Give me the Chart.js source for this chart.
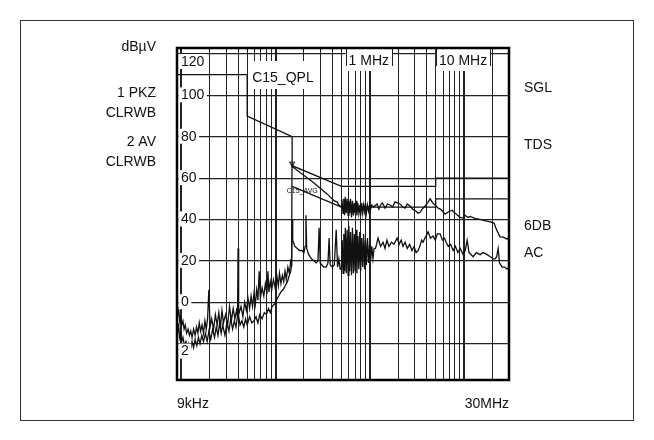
<!DOCTYPE html>
<html>
<head>
<meta charset="utf-8">
<script src="https://cdn.jsdelivr.net/npm/chart.js@4.4.1/dist/chart.umd.min.js"></script>
<style>
  html, body { margin: 0; padding: 0; background: #fff; }
  canvas { display: block; }
</style>
</head>
<body>
<canvas id="emi" width="654" height="440"></canvas>
<script>
// frequencies in kHz, levels in dBuV
const pkFreq = [
  9.0, 9.2, 9.4, 9.6, 9.8, 10.1, 10.4, 10.7, 11.0, 11.4, 11.8, 12.2, 12.6, 13.0, 13.5, 14.0, 14.5, 15.0, 15.5, 16.0,
  16.6, 17.2, 17.8, 18.4, 19.0, 19.6, 20.2, 21, 22, 23, 24, 25, 26, 27, 28, 29.5, 31, 32.5, 34, 35.5,
  37, 38.5, 39.5, 40, 40.6, 43, 45, 47, 49, 51, 53, 55, 57, 59, 61, 63, 65, 67, 69, 72,
  75, 78, 81, 83, 85, 88, 91, 95, 99, 103, 107, 110, 114, 118, 122, 126, 130, 135, 140, 145,
  148, 149.5, 151, 250, 350, 420, 450, 470, 500,
  510, 520, 530, 540, 550, 562, 575, 588, 600, 612, 625, 640, 655, 670, 685, 700, 715, 730, 748, 765,
  783, 800, 820, 840, 860, 880, 900, 920, 945, 970, 995, 1020, 1050,
  1100, 1195, 1250, 1300, 1360, 1453, 1540, 1642, 1750, 1850, 1949, 2097, 2250, 2370, 2500, 2675, 2850, 3100, 3250, 3420,
  3600, 3865, 4100, 4370, 4650, 4930, 5310, 5580, 5900, 6300, 6780, 7470, 8245, 9090, 9785, 10270, 11000, 11600, 13000, 14823,
  16500, 18930, 20850, 21700, 22450, 24166, 26000, 27300, 28676, 30000
];
const pkLevel = [
  -2, -6, -4, -9, -7, -11, -9, -13, -11, -15, -13, -16, -14, -17, -13, -16, -12, -15, -10, -14,
  -11, -15, -9, -13, -8, 6, -12, -8, -13, -6, -11, -5, -12, -4, -10, -6, -11, -2, -9, -3,
  -8, -4, -7, 26, -6, -2, -7, 0, -4, 2, -3, 3, -2, 4, -1, 6, 1, 15, 2, 7,
  3, 9, 4, 15, 5, 10, 6, 11, 7, 13, 8, 14, 9, 13, 10, 15, 11, 17, 14, 20,
  19, 67, 65.5, 58, 52.5, 49, 48.5, 47, 46,
  48, 43, 50, 42, 51, 43, 50, 42, 49, 43, 50, 41, 49, 42, 48, 43, 49, 42, 48, 43,
  47, 42, 48, 43, 47, 44, 48, 43, 47, 44, 47, 45, 47,
  46, 47.5, 45, 47, 48, 45.5, 47.5, 47, 46, 48.5, 48, 47.5, 46, 45.5, 47.5, 46.5, 45, 44, 43, 43.5,
  45, 46.5, 48, 50, 48, 47, 45.5, 45, 44, 42.6, 43.6, 44.5, 42.6, 41, 40.7, 42, 41, 41.5, 40.5, 40,
  39.5, 38.8, 38.3, 36, 34.5, 31.6, 31.5, 31, 30.5, 31.5
];
const avFreq = [
  9.0, 9.2, 9.4, 9.6, 9.8, 10.1, 10.4, 10.8, 11.2, 11.6, 12.0, 12.5, 13.0, 13.5, 14.0, 14.6, 15.2, 15.8, 16.5, 17.2,
  18.0, 18.8, 19.6, 20.5, 21.5, 22.5, 23.5, 24.5, 25.5, 26.5, 27.5, 29, 30.5, 32, 33.5, 35, 36.5, 38, 40, 42,
  44, 46, 48, 50, 53, 56, 59, 62, 65, 68, 72, 76, 80, 84, 88, 92, 97, 102, 108, 114,
  120, 127, 134, 140, 145, 148, 150, 152, 155, 160, 170, 180, 190, 200, 206, 210, 214, 225, 240, 255,
  270, 282, 290, 298, 310, 325, 345, 360, 370, 380, 400, 420, 440, 455, 470, 485,
  500, 510, 520, 530, 540, 550, 562, 575, 588, 600, 612, 625, 640, 655, 670, 685, 700, 715, 730, 748,
  765, 783, 800, 820, 840, 860, 880, 900, 920, 945, 970, 995, 1020, 1050, 1080, 1110,
  1150, 1224, 1300, 1384, 1450, 1520, 1600, 1700, 1800, 1950, 2050, 2150, 2250, 2370, 2500, 2650, 2800, 2950, 3100, 3254,
  3400, 3550, 3675, 3850, 4157, 4400, 4700, 4950, 5200, 5580, 5900, 6200, 6456, 6800, 7200, 7660, 8100, 8600, 9100, 9785,
  10300, 10785, 11300, 12487, 13500, 14823, 16000, 17587, 19000, 20500, 21386, 22200, 23013, 23800, 25380, 27000, 28676, 30000
];
const avLevel = [
  -10, -14, -12, -17, -15, -19, -17, -21, -19, -22, -20, -23, -19, -22, -18, -21, -17, -20, -16, -19,
  -15, -19, -14, -18, -13, -17, -12, -16, -10, -15, -11, -16, -10, -14, -8, -13, -9, -12, -5, -11,
  -9, -12, -8, -11, -7, -10, -9, -7, -10, -6, -8, -5, -6, -3, -5, -2, -1, 1, 3, 5,
  6, 8, 10, 13, 15, 18, 40, 30, 29, 27, 26, 25, 25, 24, 27, 42, 26, 23, 21, 20,
  19, 20, 36, 19, 18, 17, 17, 19, 31, 18, 17, 18, 35, 17, 21, 16,
  16, 30, 14, 33, 15, 36, 14, 35, 13, 37, 15, 34, 13, 36, 14, 33, 15, 35, 14, 32,
  16, 34, 15, 31, 17, 33, 16, 30, 18, 31, 19, 28, 20, 27, 21, 26,
  26, 31, 27, 29, 26, 30, 27, 29, 28, 31, 28, 30, 27, 29, 26, 28, 25, 27, 24, 25,
  27, 30, 29, 31, 34, 31, 32, 30, 33, 33, 30, 31, 29, 27, 28, 25, 27, 24, 26, 23,
  25, 30, 24, 22, 24, 23, 24, 23, 22, 21, 21, 22, 26, 19, 17, 17, 16, 17
];
const qpLimitFreq = [9, 50, 50, 150, 150, 500, 5000, 5000, 30000];
const qpLimitLevel = [110, 110, 90, 80, 66, 56, 56, 60, 60];
const avgLimitFreq = [150, 500, 5000, 5000, 30000];
const avgLimitLevel = [56, 46, 46, 50, 50];
const markerFreq = [150];
const markerLevel = [67];

const yTickValues = [120, 100, 80, 60, 40, 20, 0, -20];
const yTickLabels = ['120', '100', '80', '60', '40', '20', '0', '2'];
const gridFreqs = [
  10, 20, 30, 40, 50, 60, 70, 80, 90,
  100, 200, 300, 400, 500, 600, 700, 800, 900,
  1000, 2000, 3000, 4000, 5000, 6000, 7000, 8000, 9000,
  10000, 20000, 30000
];
const decadeFreqs = [10, 100, 1000, 10000];
const topLabels = [[1000, '1 MHz'], [10000, '10 MHz']];
const leftNotes = ['dBµV', '1 PKZ', 'CLRWB', '2 AV', 'CLRWB'];
const rightNotes = ['SGL', 'TDS', '6DB', 'AC'];

const FONT = '14px "Liberation Sans", Arial, sans-serif';
const toPoints = (xs, ys) => xs.map((x, i) => ({ x, y: ys[i] }));

const overlay = {
  id: 'overlay',
  afterDatasetsDraw(chart) {
    const { ctx, chartArea: a, scales } = chart;
    const x = scales.x, y = scales.y;
    ctx.save();
    ctx.font = FONT;
    ctx.fillStyle = '#111';

    // y tick labels drawn inside the plot with white backdrops
    yTickValues.forEach((v, i) => {
      const py = y.getPixelForValue(v);
      const text = yTickLabels[i];
      const w = ctx.measureText(text).width;
      let top = py - 7;
      if (v === 120 || v === -20) top = py + 1;
      ctx.fillStyle = '#fff';
      ctx.fillRect(a.left + 1.5, top - 1, w + 5, 15);
      ctx.fillStyle = '#111';
      ctx.textBaseline = 'top';
      ctx.textAlign = 'left';
      ctx.fillText(text, a.left + 4, top);
    });

    // decade labels along the top
    topLabels.forEach(([f, text]) => {
      const px = x.getPixelForValue(f) - 1;
      const w = ctx.measureText(text).width + 6;
      ctx.fillStyle = '#fff';
      ctx.fillRect(px - w / 2, a.top, w, 23);
      ctx.strokeStyle = '#222';
      ctx.lineWidth = 1;
      ctx.beginPath();
      ctx.moveTo(Math.round(px - w / 2) + 0.5, a.top);
      ctx.lineTo(Math.round(px - w / 2) + 0.5, a.top + 18);
      ctx.moveTo(Math.round(px + w / 2) + 0.5, a.top);
      ctx.lineTo(Math.round(px + w / 2) + 0.5, a.top + 18);
      ctx.stroke();
      ctx.fillStyle = '#111';
      ctx.textAlign = 'center';
      ctx.textBaseline = 'middle';
      ctx.fillText(text, px, a.top + 13);
    });

    // limit line labels
    const qx = x.getPixelForValue(50) + 2;
    ctx.fillStyle = '#fff';
    ctx.fillRect(qx, 61, 70, 28);
    ctx.fillStyle = '#111';
    ctx.textAlign = 'left';
    ctx.textBaseline = 'middle';
    ctx.fillText('C15_QPL', qx + 3, 78);
    ctx.font = '7px "Liberation Sans", Arial, sans-serif';
    ctx.fillText('C15_AVG', x.getPixelForValue(145) - 4, 191);

    // plot frame
    ctx.strokeStyle = '#000';
    ctx.lineWidth = 2.5;
    ctx.strokeRect(a.left, a.top, a.right - a.left, a.bottom - a.top);

    // outer frame
    ctx.lineWidth = 1;
    ctx.strokeStyle = '#333';
    ctx.strokeRect(20.5, 20.5, 613, 400);

    // side notes
    ctx.font = FONT;
    ctx.fillStyle = '#111';
    ctx.textAlign = 'right';
    [47, 93, 113, 142, 162].forEach((ty, i) => ctx.fillText(leftNotes[i], 156, ty));
    ctx.textAlign = 'left';
    [88, 145, 226, 253].forEach((ty, i) => ctx.fillText(rightNotes[i], 524, ty));

    // frequency span
    ctx.fillText('9kHz', a.left, 404);
    ctx.textAlign = 'right';
    ctx.fillText('30MHz', a.right, 404);
    ctx.restore();
  }
};

const lineStyle = { borderColor: '#111', borderWidth: 1.3, pointRadius: 0, fill: false, tension: 0 };

new Chart(document.getElementById('emi'), {
  type: 'line',
  data: {
    datasets: [
      { label: 'PK', data: toPoints(pkFreq, pkLevel), ...lineStyle },
      { label: 'AV', data: toPoints(avFreq, avLevel), ...lineStyle },
      { label: 'C15_QPL', data: toPoints(qpLimitFreq, qpLimitLevel), ...lineStyle },
      { label: 'C15_AVG', data: toPoints(avgLimitFreq, avgLimitLevel), ...lineStyle },
      {
        label: 'marker', data: toPoints(markerFreq, markerLevel), showLine: false,
        pointStyle: 'triangle', rotation: 180, pointRadius: 3,
        pointBackgroundColor: '#fff', pointBorderColor: '#111', pointBorderWidth: 1
      }
    ]
  },
  options: {
    responsive: false,
    animation: false,
    layout: { padding: { left: 177, top: 48, right: 145, bottom: 60 } },
    plugins: { legend: { display: false }, tooltip: { enabled: false } },
    scales: {
      x: {
        type: 'logarithmic',
        min: 9,
        max: 30000,
        afterBuildTicks: (scale) => { scale.ticks = gridFreqs.map(v => ({ value: v })); },
        ticks: { display: false },
        border: { display: false },
        grid: {
          drawTicks: false,
          color: '#222',
          lineWidth: (c) => decadeFreqs.includes(c.tick && c.tick.value) ? 2 : 1
        }
      },
      y: {
        min: -37.6,
        max: 122.9,
        afterBuildTicks: (scale) => { scale.ticks = yTickValues.map(v => ({ value: v })); },
        ticks: { display: false },
        border: { display: false },
        grid: { drawTicks: false, color: '#222', lineWidth: 1.2 }
      }
    }
  },
  plugins: [overlay]
});
</script>
</body>
</html>
